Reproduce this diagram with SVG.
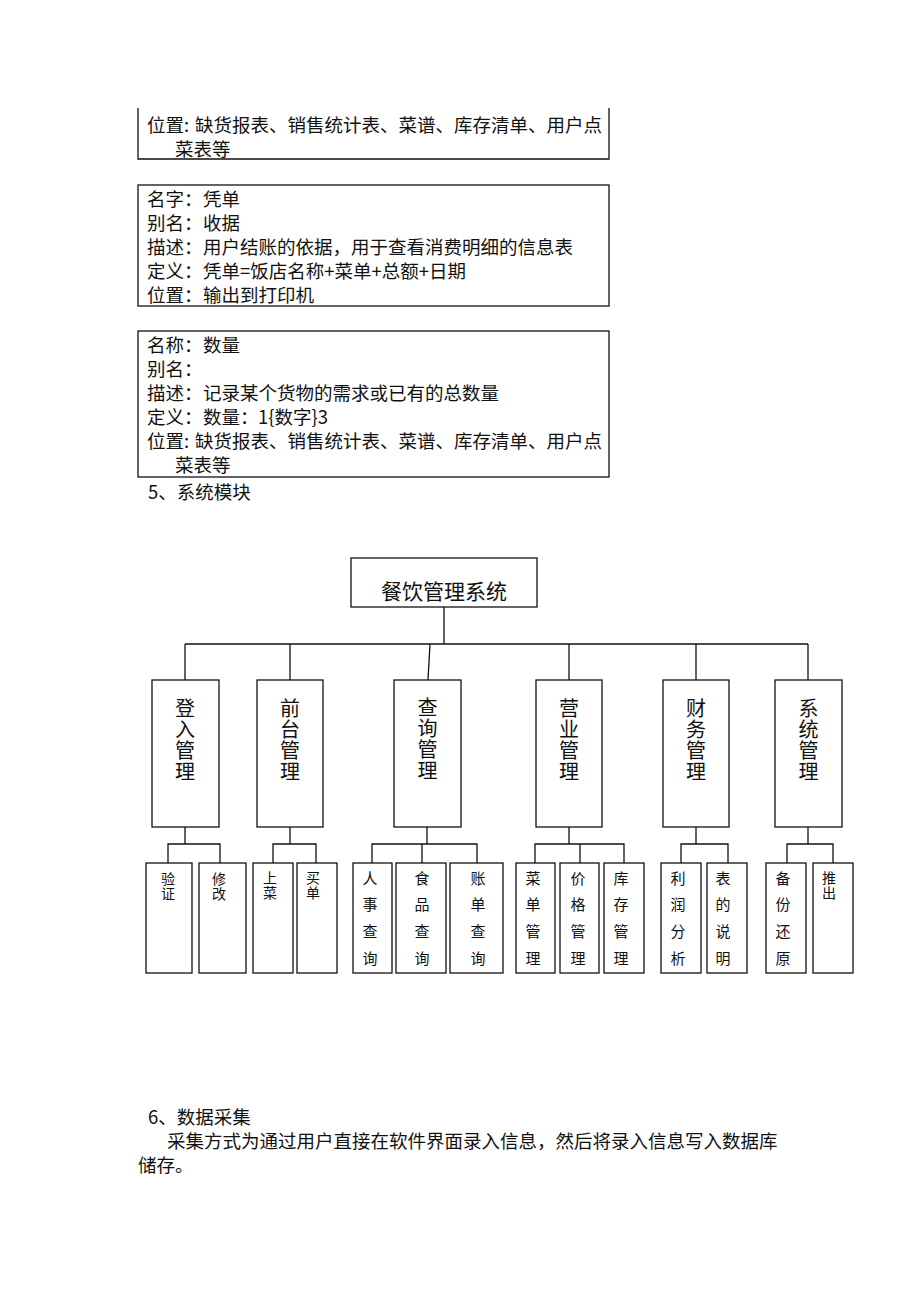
<svg xmlns="http://www.w3.org/2000/svg" width="920" height="1302" viewBox="0 0 920 1302">
<style>
  .t { font-family: "Noto Sans CJK SC", "Liberation Serif", sans-serif; font-size: 18.5px; fill: #111; dominant-baseline: central; }
  .box { fill: #fff; stroke: #111; stroke-width: 1.3; }
  .root { font-family: "Noto Sans CJK SC", sans-serif; font-size: 21px; fill: #111; text-anchor: middle; dominant-baseline: central; }
  .v1 { font-family: "Noto Sans CJK SC", sans-serif; font-size: 20px; letter-spacing: 1px; fill: #111; writing-mode: vertical-rl; }
  .v4 { font-family: "Noto Sans CJK SC", sans-serif; font-size: 15px; letter-spacing: 11.7px; fill: #111; writing-mode: vertical-rl; }
  .v2 { font-family: "Noto Sans CJK SC", sans-serif; font-size: 14px; letter-spacing: 1px; fill: #111; writing-mode: vertical-rl; }
  .c { fill: none; stroke: #111; stroke-width: 1.3; }
</style>
<rect width="920" height="1302" fill="#fff"/>

<!-- Text boxes -->
<g id="box1">
  <path class="c" d="M138,108 V159 H609 V108"/>
  <text class="t" x="147" y="124">位置: <tspan x="195">缺货报表、销售统计表、菜谱、库存清单、用户点</tspan></text>
  <text class="t" x="175" y="148">菜表等</text>
</g>
<g id="box2">
  <rect class="box" x="138" y="185" width="471" height="121"/>
  <text class="t" x="147" y="198">名字：<tspan x="203">凭单</tspan></text>
  <text class="t" x="147" y="222">别名：<tspan x="203">收据</tspan></text>
  <text class="t" x="147" y="246">描述：<tspan x="203">用户结账的依据，用于查看消费明细的信息表</tspan></text>
  <text class="t" x="147" y="270">定义：<tspan x="203">凭单=饭店名称+菜单+总额+日期</tspan></text>
  <text class="t" x="147" y="294">位置：<tspan x="203">输出到打印机</tspan></text>
</g>
<g id="box3">
  <rect class="box" x="138" y="331" width="471" height="146"/>
  <text class="t" x="147" y="344">名称：<tspan x="203">数量</tspan></text>
  <text class="t" x="147" y="368">别名：</text>
  <text class="t" x="147" y="392">描述：<tspan x="203">记录某个货物的需求或已有的总数量</tspan></text>
  <text class="t" x="147" y="416">定义：<tspan x="203">数量：</tspan><tspan x="258">1{数字}3</tspan></text>
  <text class="t" x="147" y="440">位置: <tspan x="195">缺货报表、销售统计表、菜谱、库存清单、用户点</tspan></text>
  <text class="t" x="175" y="464">菜表等</text>
</g>
<text class="t" x="148" y="491">5、系统模块</text>

<!-- Connectors -->
<g id="connectors">
  <path class="c" d="M444,607 V644"/>
  <path class="c" d="M185,644 H808" stroke-width="1.6"/>
  <path class="c" d="M185,644 V680"/>
  <path class="c" d="M290,644 V680"/>
  <path class="c" d="M430,644 L428,680"/>
  <path class="c" d="M569,644 V680"/>
  <path class="c" d="M696,644 V680"/>
  <path class="c" d="M808,644 V680"/>
  <path class="c" d="M185,827 V844 M168,863 V844 H220 V863"/>
  <path class="c" d="M290,827 V844 M273,863 V844 H316 V863"/>
  <path class="c" d="M427,827 V844 M372,863 V844 H477 V863 M422,844 V863"/>
  <path class="c" d="M569,827 V844 M535,863 V844 H624 V863 M580,844 V863"/>
  <path class="c" d="M696,827 V844 M681,863 V844 H728 V863"/>
  <path class="c" d="M808,827 V844 M787,863 V844 H833 V863"/>
</g>

<!-- Root -->
<g id="root">
  <rect class="box" x="351" y="558" width="186" height="49"/>
  <text class="root" x="444" y="590">餐饮管理系统</text>
</g>

<!-- Level 1 -->
<g id="n-denglu">
  <rect class="box" x="152" y="680" width="67" height="147"/>
  <text class="v1" x="185" y="698">登入管理</text>
</g>
<g id="n-qiantai">
  <rect class="box" x="257" y="680" width="66" height="147"/>
  <text class="v1" x="290" y="698">前台管理</text>
</g>
<g id="n-chaxun">
  <rect class="box" x="394" y="680" width="67" height="147"/>
  <text class="v1" x="427.5" y="697">查询管理</text>
</g>
<g id="n-yingye">
  <rect class="box" x="536" y="680" width="66" height="147"/>
  <text class="v1" x="569" y="698">营业管理</text>
</g>
<g id="n-caiwu">
  <rect class="box" x="663" y="680" width="66" height="147"/>
  <text class="v1" x="696" y="698">财务管理</text>
</g>
<g id="n-xitong">
  <rect class="box" x="775" y="680" width="67" height="147"/>
  <text class="v1" x="808.5" y="698">系统管理</text>
</g>

<!-- Level 2 -->
<g id="n-yanzheng">
  <rect class="box" x="146" y="863" width="46" height="110"/>
  <text class="v2" x="168" y="872">验证</text>
</g>
<g id="n-xiugai">
  <rect class="box" x="199" y="863" width="47" height="110"/>
  <text class="v2" x="219" y="872">修改</text>
</g>
<g id="n-shangcai">
  <rect class="box" x="253" y="863" width="40" height="110"/>
  <text class="v2" x="270" y="871">上菜</text>
</g>
<g id="n-maidan">
  <rect class="box" x="297" y="863" width="40" height="110"/>
  <text class="v2" x="313" y="871">买单</text>
</g>
<g id="n-renshi">
  <rect class="box" x="353" y="863" width="39" height="110"/>
  <text class="v4" x="370" y="870.5">人事查询</text>
</g>
<g id="n-shipin">
  <rect class="box" x="396" y="863" width="50" height="110"/>
  <text class="v4" x="422" y="870.5">食品查询</text>
</g>
<g id="n-zhangdan">
  <rect class="box" x="450" y="863" width="53" height="110"/>
  <text class="v4" x="478" y="870.5">账单查询</text>
</g>
<g id="n-caidan">
  <rect class="box" x="516" y="863" width="39" height="110"/>
  <text class="v4" x="533" y="870.5">菜单管理</text>
</g>
<g id="n-jiage">
  <rect class="box" x="560" y="863" width="39" height="110"/>
  <text class="v4" x="578" y="870.5">价格管理</text>
</g>
<g id="n-kucun">
  <rect class="box" x="604" y="863" width="40" height="110"/>
  <text class="v4" x="621" y="870.5">库存管理</text>
</g>
<g id="n-lirun">
  <rect class="box" x="661" y="863" width="40" height="110"/>
  <text class="v4" x="678" y="870.5">利润分析</text>
</g>
<g id="n-biaode">
  <rect class="box" x="707" y="863" width="40" height="110"/>
  <text class="v4" x="723" y="870.5">表的说明</text>
</g>
<g id="n-beifen">
  <rect class="box" x="766" y="863" width="40" height="110"/>
  <text class="v4" x="783" y="870.5">备份还原</text>
</g>
<g id="n-tuichu">
  <rect class="box" x="813" y="863" width="40" height="110"/>
  <text class="v2" x="829" y="871">推出</text>
</g>

<!-- Bottom text -->
<text class="t" x="148" y="1116">6、数据采集</text>
<text class="t" x="167" y="1140">采集方式为通过用户直接在软件界面录入信息，然后将录入信息写入数据库</text>
<text class="t" x="138" y="1164">储存。</text>
</svg>
